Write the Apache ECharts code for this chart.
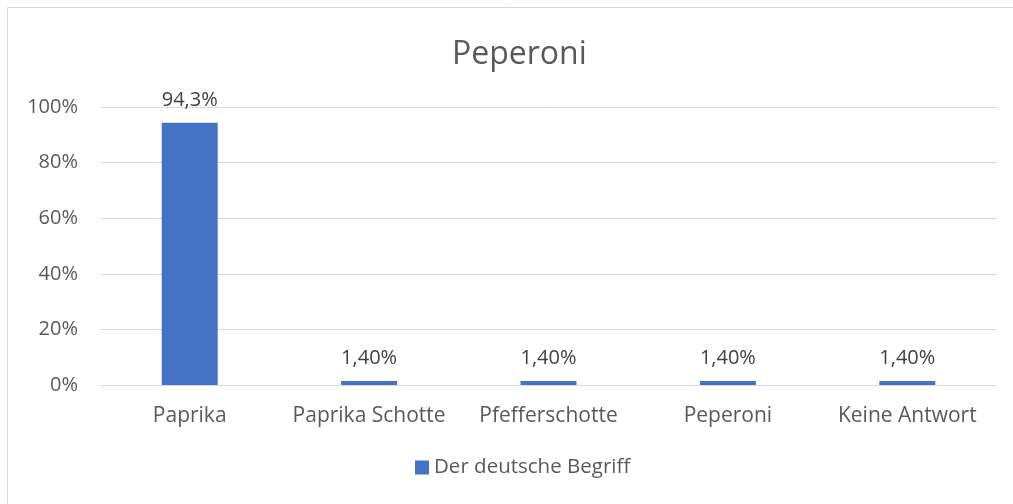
<!DOCTYPE html>
<html><head><meta charset="utf-8">
<script src="https://cdn.jsdelivr.net/npm/echarts@6/dist/echarts.min.js"></script>
<style>html,body{margin:0;padding:0;background:#fff}#c{width:1013px;height:504px}</style>
</head><body><div id="c"></div>
<script>
const categories = ['Paprika', 'Paprika Schotte', 'Pfefferschotte', 'Peperoni', 'Keine Antwort'];
const values = [94.3, 1.4, 1.4, 1.4, 1.4];
const valueLabels = ['94,3%', '1,40%', '1,40%', '1,40%', '1,40%'];
const yTicks = [0, 20, 40, 60, 80, 100];
const seriesName = 'Der deutsche Begriff';
const chartTitle = 'Peperoni';

const font = '"Open Sans", sans-serif';
const chart = echarts.init(document.getElementById('c'), null, {renderer: 'canvas'});
chart.setOption({
  animation: false,
  textStyle: {fontFamily: font},
  graphic: [{type: 'rect', shape: {x: 7.5, y: 7.5, width: 1020, height: 520}, style: {fill: 'none', stroke: '#d9d9d9', lineWidth: 1}, silent: true}],
  title: {text: chartTitle, left: 447, top: 34, textStyle: {fontFamily: font, fontSize: 32, fontWeight: 'normal', color: '#595959'}},
  grid: {left: 100, right: 16, top: 107, bottom: 119},
  legend: {bottom: 21, left: 410, icon: 'rect', itemWidth: 14, itemHeight: 14, itemGap: 5,
    textStyle: {fontFamily: font, fontSize: 20.5, color: '#595959'}, data: [seriesName]},
  xAxis: {type: 'category', data: categories,
    axisLine: {lineStyle: {color: '#d9d9d9', width: 1}}, axisTick: {show: false},
    axisLabel: {color: '#595959', fontSize: 21, fontFamily: font, margin: 21, interval: 0}},
  yAxis: {type: 'value', min: yTicks[0], max: yTicks[yTicks.length - 1], interval: 20,
    axisLine: {show: false}, axisTick: {show: false},
    splitLine: {lineStyle: {color: '#d9d9d9', width: 1}},
    axisLabel: {color: '#595959', fontSize: 20, fontFamily: font, margin: 22, formatter: v => v + '%'}},
  series: [{name: seriesName, type: 'bar', data: values, barWidth: 56,
    itemStyle: {color: '#4472c4'},
    label: {show: true, position: 'top', distance: 13, color: '#404040', fontSize: 20, fontFamily: font,
      formatter: p => valueLabels[p.dataIndex]}}]
});
</script></body></html>
